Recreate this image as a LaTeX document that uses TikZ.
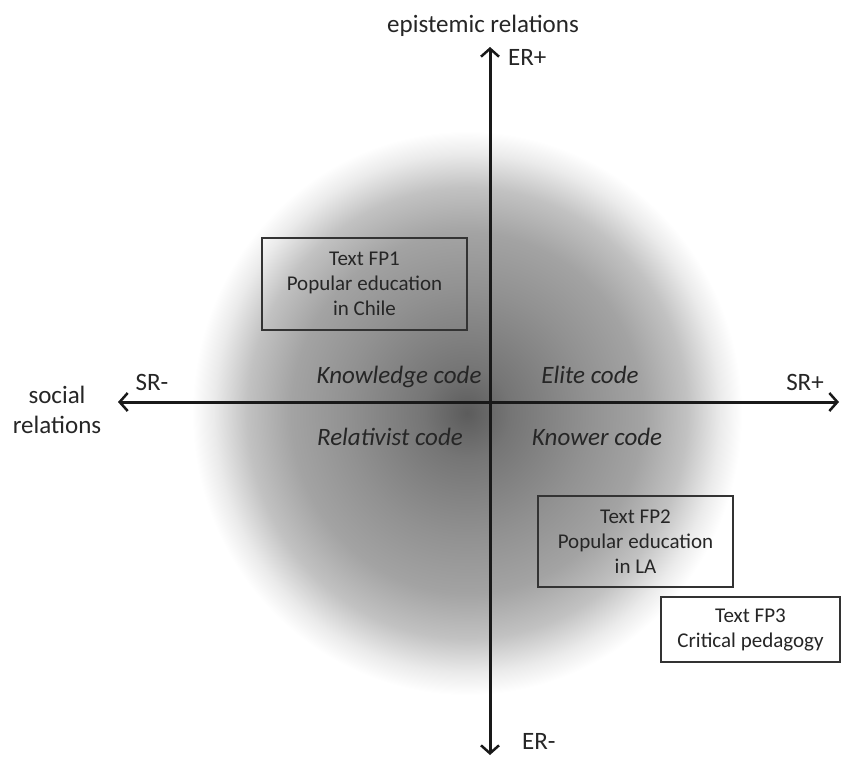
\documentclass[tikz,border=0pt]{standalone}
\usepackage{fontspec}
\setmainfont{Carlito}
\usetikzlibrary{arrows.meta}

% soft grey glow behind the four code quadrants (25bp = edge of the shaded path)
\pgfdeclareradialshading{codeglow}{\pgfpoint{0bp}{0bp}}{%
  color(0bp)=(black!64); color(4bp)=(black!54); color(11bp)=(black!43);
  color(16bp)=(black!36); color(20bp)=(black!24); color(23bp)=(black!8);
  color(25bp)=(white); color(50bp)=(white)}

\begin{document}
\begin{tikzpicture}[x=1pt,y=-1pt,
  lbl/.style={font=\fontsize{25}{30}\selectfont, text=black!85, inner sep=0pt},
  code/.style={lbl, font=\fontsize{25}{30}\selectfont\itshape},
  fpbox/.style={draw=black!80, line width=1.8pt, align=center,
    font=\fontsize{21}{25}\selectfont, text=black!85, inner sep=0pt},
  axis/.style={line width=3pt, draw=black!90,
    {Straight Barb[length=8pt,width=18pt,line width=2.5pt]}-{Straight Barb[length=8pt,width=18pt,line width=2.5pt]}}]

  % canvas
  \fill[white] (0,0) rectangle (842,756);
  \useasboundingbox (0,0) rectangle (842,756);

  % glow
  \shade[shading=codeglow] (467,413) ellipse [x radius=275pt, y radius=282pt];

  % axes
  \coordinate (top) at (490,47);
  \coordinate (bot) at (490,755);
  \coordinate (lft) at (118,402);
  \coordinate (rgt) at (839,402);
  \draw[axis] (bot) -- (top);
  \draw[axis] (lft) -- (rgt);

  % axis labels
  \node[lbl, anchor=base] (epi) at (483,32) {epistemic relations};
  \node[lbl, anchor=base west] (erplus) at (508,65) {ER+};
  \node[lbl, anchor=base west] (erminus) at (522,749) {ER-};
  \node[lbl, align=center] (soc) at (57,410) {social\\relations};
  \node[lbl, anchor=base] (srminus) at (152,390) {SR-};
  \node[lbl, anchor=base] (srplus) at (805,390) {SR+};

  % code names
  \node[code, anchor=base] (knowledge) at (399,383) {Knowledge code};
  \node[code, anchor=base] (elite) at (590,383) {Elite code};
  \node[code, anchor=base] (relativist) at (390,445) {Relativist code};
  \node[code, anchor=base] (knower) at (597,445) {Knower code};

  % text boxes
  \node[fpbox, minimum width=205pt, minimum height=92pt] (fp1) at (364.5,284)
    {Text FP1\\Popular education\\in Chile};
  \node[fpbox, minimum width=195pt, minimum height=91pt] (fp2) at (635.5,541.5)
    {Text FP2\\Popular education\\in LA};
  \node[fpbox, fill=white, minimum width=179pt, minimum height=65pt] (fp3) at (750.5,629.5)
    {Text FP3\\Critical pedagogy};
\end{tikzpicture}
\end{document}
